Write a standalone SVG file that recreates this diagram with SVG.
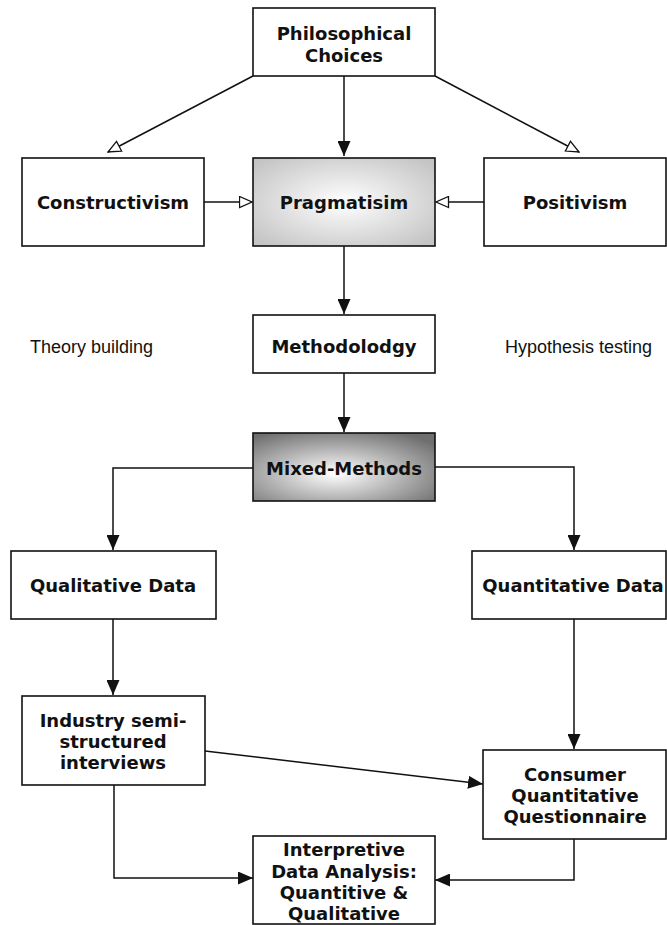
<svg xmlns="http://www.w3.org/2000/svg" width="667" height="925" viewBox="0 0 667 925">
  <style>
    .box { fill: #ffffff; stroke: #111111; stroke-width: 1.6; }
    .lbl { font-family: "DejaVu Sans", "Liberation Sans", sans-serif; font-weight: bold; font-size: 18px; fill: #111111; text-anchor: middle; }
    .note { font-family: "Liberation Sans", Arial, sans-serif; font-size: 18px; fill: #111111; }
    .conn { fill: none; stroke: #111111; stroke-width: 1.5; }
  </style>
  <defs>
    <radialGradient id="gradLight" cx="50%" cy="50%" r="65%">
      <stop offset="0" stop-color="#ffffff"/>
      <stop offset="1" stop-color="#c4c4c4"/>
    </radialGradient>
    <radialGradient id="gradDark" cx="45%" cy="60%" r="70%">
      <stop offset="0" stop-color="#ffffff"/>
      <stop offset="1" stop-color="#6e6e6e"/>
    </radialGradient>
    <marker id="solid" markerUnits="userSpaceOnUse" markerWidth="15" markerHeight="13" refX="15" refY="6.5" orient="auto">
      <path d="M0,0 L15,6.5 L0,13 z" fill="#111111"/>
    </marker>
    <marker id="hollow" markerUnits="userSpaceOnUse" markerWidth="15" markerHeight="13" refX="13.5" refY="6.5" orient="auto">
      <path d="M1,1 L13.5,6.5 L1,12 z" fill="#ffffff" stroke="#111111" stroke-width="1.3"/>
    </marker>
  </defs>

  <g id="connectors">
    <path class="conn" d="M253,76 L108,152" marker-end="url(#hollow)"/>
    <path class="conn" d="M435,76 L579,152" marker-end="url(#hollow)"/>
    <path class="conn" d="M344,76 L344,156" marker-end="url(#solid)"/>
    <path class="conn" d="M204,202 L252,202" marker-end="url(#hollow)"/>
    <path class="conn" d="M484,202 L436,202" marker-end="url(#hollow)"/>
    <path class="conn" d="M344,246 L344,314" marker-end="url(#solid)"/>
    <path class="conn" d="M344,373 L344,432" marker-end="url(#solid)"/>
    <path class="conn" d="M253,468 L113,468 L113,550" marker-end="url(#solid)"/>
    <path class="conn" d="M435,467 L574,467 L574,550" marker-end="url(#solid)"/>
    <path class="conn" d="M113,619 L113,695" marker-end="url(#solid)"/>
    <path class="conn" d="M574,619 L574,749" marker-end="url(#solid)"/>
    <path class="conn" d="M205,751 L483,784" marker-end="url(#solid)"/>
    <path class="conn" d="M114,785 L114,878 L253,878" marker-end="url(#solid)"/>
    <path class="conn" d="M574,839 L574,880 L435,880" marker-end="url(#solid)"/>
  </g>

  <g id="philosophical-choices">
    <rect class="box" x="253" y="8" width="182" height="68"/>
    <text class="lbl" x="344" y="40">Philosophical</text>
    <text class="lbl" x="344" y="62">Choices</text>
  </g>
  <g id="constructivism">
    <rect class="box" x="22" y="158" width="182" height="88"/>
    <text class="lbl" x="113" y="209">Constructivism</text>
  </g>
  <g id="pragmatisim">
    <rect class="box" x="253" y="158" width="182" height="88" style="fill:url(#gradLight)"/>
    <text class="lbl" x="344" y="209">Pragmatisim</text>
  </g>
  <g id="positivism">
    <rect class="box" x="484" y="158" width="182" height="88"/>
    <text class="lbl" x="575" y="209">Positivism</text>
  </g>
  <g id="theory-building">
    <text class="note" x="30" y="353">Theory building</text>
  </g>
  <g id="methodolodgy">
    <rect class="box" x="253" y="315" width="182" height="58"/>
    <text class="lbl" x="344" y="353">Methodolodgy</text>
  </g>
  <g id="hypothesis-testing">
    <text class="note" x="505" y="353">Hypothesis testing</text>
  </g>
  <g id="mixed-methods">
    <rect class="box" x="253" y="433" width="182" height="68" style="fill:url(#gradDark)"/>
    <text class="lbl" x="344" y="475">Mixed-Methods</text>
  </g>
  <g id="qualitative-data">
    <rect class="box" x="11" y="551" width="205" height="68"/>
    <text class="lbl" x="113" y="592">Qualitative Data</text>
  </g>
  <g id="quantitative-data">
    <rect class="box" x="472" y="551" width="194" height="68"/>
    <text class="lbl" x="573" y="592">Quantitative Data</text>
  </g>
  <g id="industry-interviews">
    <rect class="box" x="22" y="696" width="183" height="89"/>
    <text class="lbl" x="113" y="727">Industry semi-</text>
    <text class="lbl" x="113" y="748">structured</text>
    <text class="lbl" x="113" y="769">interviews</text>
  </g>
  <g id="consumer-questionnaire">
    <rect class="box" x="483" y="750" width="183" height="89"/>
    <text class="lbl" x="575" y="781">Consumer</text>
    <text class="lbl" x="575" y="802">Quantitative</text>
    <text class="lbl" x="575" y="823">Questionnaire</text>
  </g>
  <g id="interpretive-analysis">
    <rect class="box" x="253" y="836" width="182" height="88"/>
    <text class="lbl" x="344" y="856">Interpretive</text>
    <text class="lbl" x="344" y="878">Data Analysis:</text>
    <text class="lbl" x="344" y="899">Quantitive &amp;</text>
    <text class="lbl" x="344" y="920">Qualitative</text>
  </g>
</svg>
